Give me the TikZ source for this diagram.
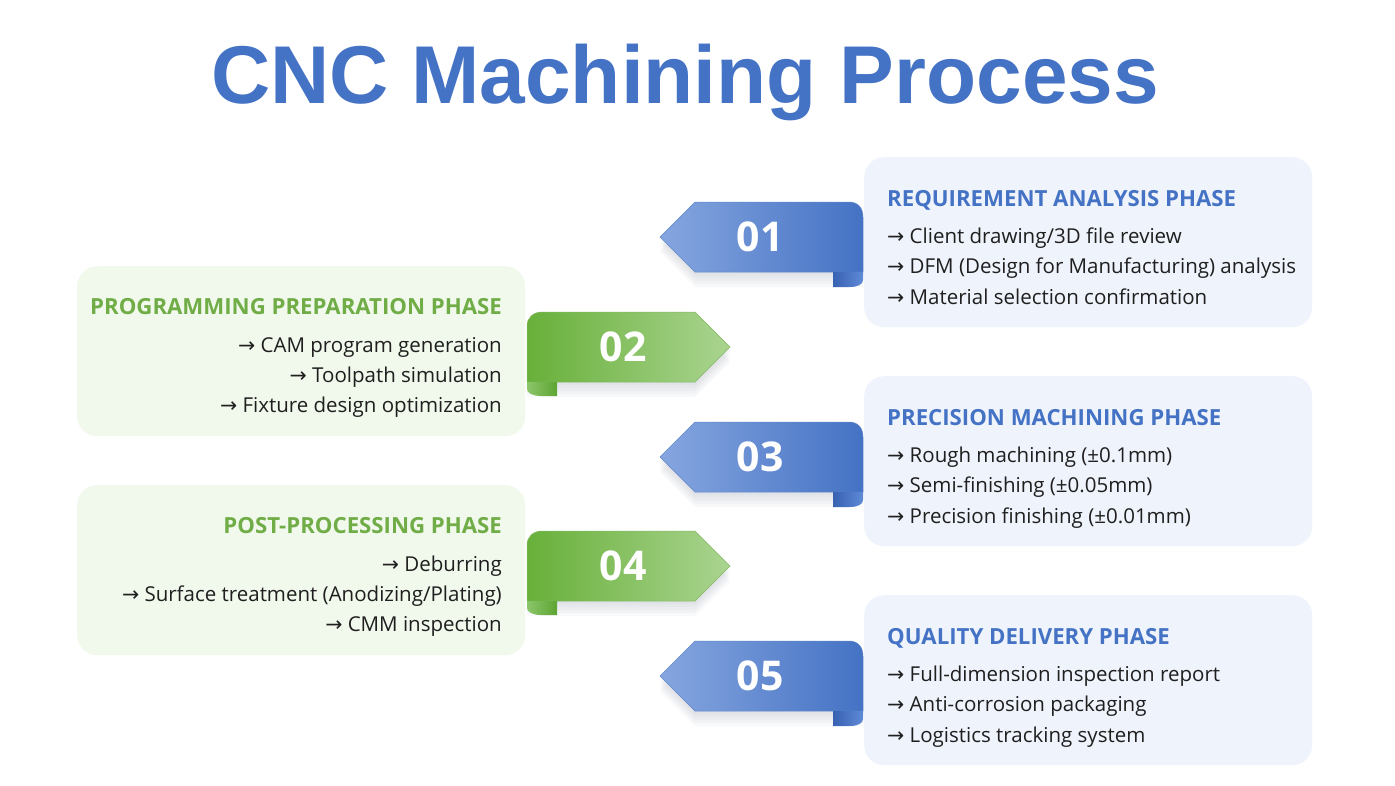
\documentclass[tikz,border=0pt]{standalone}
\usepackage{fontspec}
\setmainfont{Open Sans}
\newfontfamily\titlefont{Liberation Sans}
\newfontfamily\arrfont{DejaVu Sans}
\definecolor{cblue}{HTML}{4472C4}
\definecolor{bluelight}{HTML}{86A6DF}
\definecolor{bluedark}{HTML}{3862B2}
\definecolor{bluecurl}{HTML}{5F8AD6}
\definecolor{cgreen}{HTML}{70AD47}
\definecolor{greendark}{HTML}{68B03A}
\definecolor{greenlight}{HTML}{AAD490}
\definecolor{greencurl}{HTML}{5DA532}
\definecolor{greencurll}{HTML}{8CC56A}
\definecolor{bluebox}{HTML}{EFF3FB}
\definecolor{greenbox}{HTML}{F1F8EC}
\definecolor{txt}{HTML}{1F1F1F}
\definecolor{shadowcol}{HTML}{50607A}
\tikzset{
  boxbase/.style={rounded corners=20pt, minimum width=448pt, minimum height=170pt, inner sep=0pt, anchor=north west},
  bluebox/.style={boxbase, fill=bluebox},
  greenbox/.style={boxbase, fill=greenbox},
  headtxt/.style={font=\fontsize{22.2}{26}\selectfont\bfseries, inner sep=0pt},
  bodytxt/.style={font=\fontsize{20.5}{24}\selectfont, text=txt, inner sep=0pt},
  numtxt/.style={font=\fontsize{41}{48}\selectfont\bfseries, text=white, inner sep=0pt},
  softshadow/.style={fill=shadowcol, fill opacity=0.035},
}
\newcommand\arr{{\arrfont →}\ }
\newcommand\bluepath[1]{(660,#1) -- (695,#1-35) -- (849,#1-35) .. controls (858,#1-35) and (863,#1-29) .. (863,#1-20)
    -- (863,#1+35) -- (695,#1+35) -- cycle}
\newcommand\greenpath[1]{(730,#1) -- (695,#1+35) -- (527,#1+35) -- (527,#1-21) .. controls (527,#1-29) and (533,#1-35) .. (542,#1-35)
    -- (695,#1-35) -- cycle}
% blue tag pointing left: #1 name, #2 centre y, #3 label
\newcommand\bluetag[3]{%
  \foreach \s in {3,6,9,12,15}{\fill[softshadow, shift={(0,\s)}] \bluepath{#2};}
  \shadedraw[left color=bluelight, right color=cblue, draw=cblue!85!white, line width=0.5pt] \bluepath{#2};
  \shade[left color=bluedark, right color=bluecurl]
    (833,#2+35) -- (833,#2+50) -- (850,#2+50) .. controls (858,#2+50) and (863,#2+47) .. (863,#2+43)
    -- (863,#2+35) -- cycle;
  \node[numtxt] (#1) at (760,#2) {#3};
}
% green tag pointing right
\newcommand\greentag[3]{%
  \foreach \s in {3,6,9,12,15}{\fill[softshadow, shift={(0,\s)}] \greenpath{#2};}
  \shadedraw[left color=greendark, right color=greenlight, draw=cgreen!85!white, line width=0.5pt] \greenpath{#2};
  \shade[left color=greencurll, right color=greencurl]
    (557,#2+35) -- (557,#2+49) -- (541,#2+49) .. controls (533,#2+49) and (527,#2+46) .. (527,#2+42)
    -- (527,#2+35) -- cycle;
  \node[numtxt] (#1) at (623,#2) {#3};
}
\begin{document}
\begin{tikzpicture}[x=1pt,y=-1pt]
\fill[white] (0,0) rectangle (1395,785);
\useasboundingbox (0,0) rectangle (1395,785);

\node[font=\titlefont\fontsize{82}{90}\selectfont\bfseries, text=cblue, inner sep=0pt, anchor=base]
  (title) at (685,103) {CNC Machining Process};

% boxes
\node[bluebox]  (b1) at (864,157) {};
\node[greenbox] (b2) at (77,266) {};
\node[bluebox]  (b3) at (864,376) {};
\node[greenbox] (b4) at (77,485) {};
\node[bluebox]  (b5) at (864,595) {};

% tags
\bluetag{n1}{237}{01}
\greentag{n2}{347}{02}
\bluetag{n3}{457}{03}
\greentag{n4}{566}{04}
\bluetag{n5}{676}{05}

% box 1
\node[headtxt, text=cblue, anchor=base west] (h1) at (887,206) {REQUIREMENT ANALYSIS PHASE};
\node[bodytxt, anchor=base west] (l11) at (887,243) {\arr Client drawing/3D file review};
\node[bodytxt, anchor=base west] (l12) at (887,273) {\arr DFM (Design for Manufacturing) analysis};
\node[bodytxt, anchor=base west] (l13) at (887,304) {\arr Material selection confirmation};
% box 2
\node[headtxt, text=cgreen, anchor=base east] (h2) at (502,314) {PROGRAMMING PREPARATION PHASE};
\node[bodytxt, anchor=base east] (l21) at (502,352) {\arr CAM program generation};
\node[bodytxt, anchor=base east] (l22) at (502,382) {\arr Toolpath simulation};
\node[bodytxt, anchor=base east] (l23) at (502,412) {\arr Fixture design optimization};
% box 3
\node[headtxt, text=cblue, anchor=base west] (h3) at (887,425) {PRECISION MACHINING PHASE};
\node[bodytxt, anchor=base west] (l31) at (887,462) {\arr Rough machining (±0.1mm)};
\node[bodytxt, anchor=base west] (l32) at (887,492) {\arr Semi-finishing (±0.05mm)};
\node[bodytxt, anchor=base west] (l33) at (887,523) {\arr Precision finishing (±0.01mm)};
% box 4
\node[headtxt, text=cgreen, anchor=base east] (h4) at (502,533) {POST-PROCESSING PHASE};
\node[bodytxt, anchor=base east] (l41) at (502,571) {\arr Deburring};
\node[bodytxt, anchor=base east] (l42) at (502,601) {\arr Surface treatment (Anodizing/Plating)};
\node[bodytxt, anchor=base east] (l43) at (502,631) {\arr CMM inspection};
% box 5
\node[headtxt, text=cblue, anchor=base west] (h5) at (887,644) {QUALITY DELIVERY PHASE};
\node[bodytxt, anchor=base west] (l51) at (887,681) {\arr Full-dimension inspection report};
\node[bodytxt, anchor=base west] (l52) at (887,711) {\arr Anti-corrosion packaging};
\node[bodytxt, anchor=base west] (l53) at (887,742) {\arr Logistics tracking system};
\end{tikzpicture}
\end{document}
